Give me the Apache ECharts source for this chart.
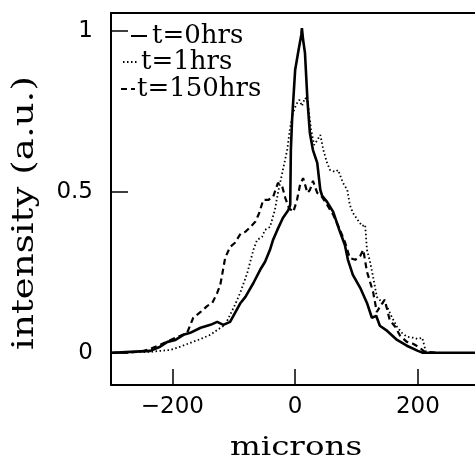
<!DOCTYPE html>
<html><head><meta charset="utf-8">
<script src="https://cdn.jsdelivr.net/npm/echarts@6/dist/echarts.min.js"></script>
<style>html,body{margin:0;padding:0;background:#fff}#c{width:475px;height:458px}</style>
</head><body><div id="c"></div>
<script>
var seriesNames = ['t=0hrs', 't=1hrs', 't=150hrs'];
var xTicks = [-200, 0, 200];
var yTicks = [0, 0.5, 1];
var xTitle = 'microns';
var yTitle = 'intensity (a.u.)';

var t0X = [-299,-268,-236,-220,-208,-195,-182,-171,-154,-138,-127,-117,-106,-89,-81,-68,-57,-49,-41,-36,-29,-20,-11,-8,-7,-5,0,5,10,11,13,16,20,24,29,36,41,44,52,62,73,81,86,94,106,117,125,132,138,150,166,182,200,208,236,293];
var t0Y = [0,0.003,0.006,0.019,0.034,0.04,0.056,0.062,0.078,0.087,0.096,0.087,0.096,0.155,0.174,0.217,0.258,0.283,0.32,0.351,0.382,0.419,0.444,0.46,0.63,0.724,0.879,0.935,0.988,1.009,0.972,0.932,0.786,0.683,0.63,0.59,0.506,0.488,0.469,0.438,0.376,0.335,0.289,0.242,0.202,0.155,0.109,0.115,0.084,0.068,0.04,0.022,0.006,0,0,0];

var t1X = [-299,-236,-203,-187,-171,-154,-138,-127,-114,-106,-98,-89,-78,-68,-62,-54,-49,-41,-33,-28,-20,-13,-8,-3,2,7,11,16,20,23,26,31,36,41,46,52,57,65,70,78,85,89,94,102,109,114,117,122,127,133,141,150,158,166,174,182,192,200,207,210,213];
var t1Y = [0,0.003,0.009,0.019,0.031,0.043,0.056,0.071,0.087,0.118,0.149,0.189,0.248,0.32,0.351,0.36,0.382,0.391,0.444,0.497,0.568,0.63,0.702,0.748,0.773,0.786,0.767,0.792,0.786,0.739,0.693,0.646,0.661,0.677,0.63,0.59,0.568,0.562,0.568,0.528,0.506,0.46,0.435,0.413,0.394,0.398,0.32,0.283,0.236,0.174,0.158,0.143,0.109,0.081,0.062,0.05,0.047,0.043,0.047,0.025,0.003];

var t150X = [-299,-252,-236,-220,-203,-187,-176,-166,-154,-143,-135,-127,-122,-119,-114,-106,-98,-89,-81,-73,-65,-59,-52,-44,-36,-28,-21,-16,-10,-3,3,8,13,20,24,29,36,44,52,62,73,81,89,98,106,111,117,127,133,140,146,154,163,171,182,192,203,211,236];
var t150Y = [0,0.003,0.012,0.025,0.04,0.053,0.062,0.109,0.127,0.146,0.155,0.186,0.211,0.242,0.295,0.329,0.342,0.37,0.376,0.391,0.407,0.432,0.475,0.475,0.484,0.528,0.516,0.481,0.45,0.438,0.475,0.522,0.543,0.497,0.506,0.534,0.497,0.484,0.46,0.429,0.382,0.345,0.295,0.289,0.301,0.32,0.252,0.189,0.127,0.149,0.165,0.102,0.081,0.053,0.034,0.028,0.016,0.003,0];

function pairs(xs, ys){ return xs.map(function(x,i){ return [x, ys[i]]; }); }

var serif = '"DejaVu Serif", serif';
var sans = '"DejaVu Sans", sans-serif';

function legendRow(name, left, top, w, pad){
  return {
    orient: 'vertical', left: left, top: top, padding: 0,
    itemWidth: w, itemHeight: 14, data: [name],
    itemStyle: {opacity: 0},
    textStyle: {fontFamily: serif, fontSize: 26, color: '#000', padding: [0,0,0,pad]}
  };
}

var chart = echarts.init(document.getElementById('c'), null, {renderer:'canvas'});
chart.setOption({
  animation: false,
  backgroundColor: '#fff',
  grid: {left: 111, right: 0, top: 13, bottom: 73},
  legend: [
    legendRow(seriesNames[0], 130, 23, 16, 0),
    legendRow(seriesNames[1], 122, 49, 14, -1),
    legendRow(seriesNames[2], 120, 76, 14, -3)
  ],
  xAxis: [{
    type: 'value', min: -300, max: 293, position: 'bottom',
    axisLine: {show: true, onZero: false, lineStyle: {color: '#000', width: 2}},
    axisTick: {show: true, inside: true, length: 16, lineStyle: {color: '#000', width: 1.5}, customValues: xTicks},
    axisLabel: {show: true, margin: 11, fontFamily: sans, fontSize: 23, color: '#000', customValues: xTicks,
      formatter: function(v){ return v < 0 ? '\u2212' + Math.abs(v) : String(v); }},
    splitLine: {show: false}
  },{
    type: 'value', min: -300, max: 293, position: 'top',
    axisLine: {show: true, onZero: false, lineStyle: {color: '#000', width: 2}},
    axisTick: {show: false}, axisLabel: {show: false}, splitLine: {show: false}
  }],
  yAxis: {
    type: 'value', min: -0.1, max: 1.056,
    axisLine: {show: true, onZero: false, lineStyle: {color: '#000', width: 2}},
    axisTick: {show: true, inside: true, length: 17, lineStyle: {color: '#000', width: 1.5}, customValues: yTicks},
    axisLabel: {show: true, margin: 18, fontFamily: sans, fontSize: 23, color: '#000', customValues: yTicks,
      formatter: function(v){ return String(v); }},
    splitLine: {show: false}
  },
  graphic: [{
    type: 'text', x: 25, y: 213, rotation: Math.PI/2, scaleX: 1.28,
    style: {text: yTitle, fontFamily: serif, fontSize: 29, fill: '#000', align: 'center', verticalAlign: 'middle'}
  },{
    type: 'text', x: 296, y: 448, scaleX: 1.25,
    style: {text: xTitle, fontFamily: serif, fontSize: 26, fill: '#000', align: 'center', verticalAlign: 'middle'}
  }],
  series: [
    {name: seriesNames[0], type: 'line', data: pairs(t0X, t0Y), showSymbol: false, symbol: 'none',
     lineStyle: {color: '#000', width: 2.6, type: 'solid'}, itemStyle: {color: '#000'}, z: 3},
    {name: seriesNames[1], type: 'line', data: pairs(t1X, t1Y), showSymbol: false, symbol: 'none',
     lineStyle: {color: '#000', width: 1.8, type: [1.5, 2.5]}, itemStyle: {color: '#000'}, z: 2},
    {name: seriesNames[2], type: 'line', data: pairs(t150X, t150Y), showSymbol: false, symbol: 'none',
     lineStyle: {color: '#000', width: 2.2, type: [6, 4]}, itemStyle: {color: '#000'}, z: 2}
  ]
});
</script></body></html>
